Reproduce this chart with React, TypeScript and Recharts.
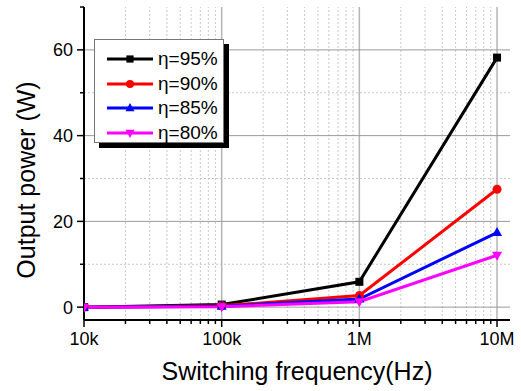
import { LineChart, Line, XAxis, YAxis, ReferenceLine, Legend, Label } from 'recharts';

const freqs = [1e4, 1e5, 1e6, 1e7];
const eta95 = [0, 0.6, 5.9, 58.2];
const eta90 = [0, 0.3, 2.7, 27.5];
const eta85 = [0, 0.2, 1.9, 17.4];
const eta80 = [0, 0.1, 1.25, 12.1];

const xMajor = [1e4, 1e5, 1e6, 1e7];
const xLabels: Record<number, string> = { 10000: '10k', 100000: '100k', 1000000: '1M', 10000000: '10M' };
const yMajor = [0, 20, 40, 60];
const yMinor = [10, 30, 50, 70];

// 2..9 inside each decade for the log grid
const xMinor: number[] = [];
[1e4, 1e5, 1e6].forEach((d) => {
  for (let k = 2; k <= 9; k++) xMinor.push(k * d);
});

const series = [
  { key: 'e95', name: 'η=95%', color: '#000000', shape: 'square', values: eta95 },
  { key: 'e90', name: 'η=90%', color: '#ff0000', shape: 'circle', values: eta90 },
  { key: 'e85', name: 'η=85%', color: '#0000ff', shape: 'up', values: eta85 },
  { key: 'e80', name: 'η=80%', color: '#ff00ff', shape: 'down', values: eta80 },
];

const data = freqs.map((f, i) => {
  const row: Record<string, number> = { f };
  series.forEach((s) => (row[s.key] = s.values[i]));
  return row;
});

const FONT = '"Liberation Sans", Arial, sans-serif';

function Marker({ cx, cy, shape, color, s = 1 }: any) {
  if (cx == null || cy == null) return null;
  if (shape === 'square') return <rect x={cx - 4 * s} y={cy - 4 * s} width={8 * s} height={8 * s} fill={color} />;
  if (shape === 'circle') return <circle cx={cx} cy={cy} r={4.5 * s} fill={color} />;
  if (shape === 'up')
    return <polygon points={`${cx},${cy - 5.5 * s} ${cx - 5 * s},${cy + 3.5 * s} ${cx + 5 * s},${cy + 3.5 * s}`} fill={color} />;
  return <polygon points={`${cx},${cy + 5.5 * s} ${cx - 5 * s},${cy - 3.5 * s} ${cx + 5 * s},${cy - 3.5 * s}`} fill={color} />;
}

function XTick({ x, y, payload }: any) {
  const major = xLabels[payload.value] !== undefined;
  return (
    <g>
      <line x1={x} y1={y} x2={x} y2={y + (major ? 7 : 4)} stroke="#000" strokeWidth={1.5} />
      {major && (
        <text x={x} y={y + 25} textAnchor="middle" fontSize={18} fontFamily={FONT} fill="#000">
          {xLabels[payload.value]}
        </text>
      )}
    </g>
  );
}

function YTick({ x, y, payload }: any) {
  const major = yMajor.includes(payload.value);
  return (
    <g>
      <line x1={x} y1={y} x2={x - (major ? 7 : 4)} y2={y} stroke="#000" strokeWidth={1.5} />
      {major && (
        <text x={x - 11} y={y + 6.5} textAnchor="end" fontSize={18} fontFamily={FONT} fill="#000">
          {payload.value}
        </text>
      )}
    </g>
  );
}

function LegendBox() {
  return (
    <div
      style={{
        width: 130,
        height: 104,
        border: '1px solid #777',
        background: '#fff',
        boxShadow: '5px 5px 0 #000',
        paddingTop: 7,
        boxSizing: 'border-box',
      }}
    >
      {series.map((s) => (
        <div key={s.key} style={{ display: 'flex', alignItems: 'center', height: 24.5 }}>
          <svg width={62} height={20} style={{ display: 'block' }}>
            <line x1={12} y1={10} x2={58} y2={10} stroke={s.color} strokeWidth={3} />
            <Marker cx={35} cy={10} shape={s.shape} color={s.color} s={0.9} />
          </svg>
          <span style={{ fontFamily: FONT, fontSize: 19, color: '#000', marginLeft: 1 }}>{s.name}</span>
        </div>
      ))}
    </div>
  );
}

export default function App() {
  return (
    <div style={{ position: 'absolute', left: 0, top: 0, background: '#fff' }}>
      <LineChart width={521} height={391} data={data} margin={{ top: 7, right: 11, left: 0, bottom: 0 }}>
        <XAxis
          dataKey="f"
          type="number"
          scale="log"
          domain={[1e4, 1.242e7]}
          allowDataOverflow
          ticks={[...xMajor, ...xMinor]}
          interval={0}
          height={71}
          tickSize={0}
          tickMargin={0}
          tick={<XTick />}
          axisLine={{ stroke: '#000', strokeWidth: 2 }}
        >
          <Label
            content={({ viewBox }: any) => (
              <text
                x={viewBox.x + viewBox.width / 2}
                y={viewBox.y + 60}
                textAnchor="middle"
                fontSize={25}
                fontFamily={FONT}
                fill="#000"
              >
                Switching frequency(Hz)
              </text>
            )}
          />
        </XAxis>
        <YAxis
          type="number"
          domain={[-3, 70]}
          allowDataOverflow
          ticks={[...yMajor, ...yMinor]}
          interval={0}
          width={84}
          tickSize={0}
          tickMargin={0}
          tick={<YTick />}
          axisLine={{ stroke: '#000', strokeWidth: 2 }}
        >
          <Label
            content={() => (
              <text
                x={35}
                y={180}
                transform="rotate(-90 35 180)"
                textAnchor="middle"
                fontSize={25}
                fontFamily={FONT}
                fill="#000"
              >
                Output power (W)
              </text>
            )}
          />
        </YAxis>

        {xMinor.map((v) => (
          <ReferenceLine key={`xm${v}`} x={v} stroke="#c8c8c8" strokeDasharray="2 2" strokeWidth={1} />
        ))}
        {[10, 30, 50].map((v) => (
          <ReferenceLine key={`ym${v}`} y={v} stroke="#c8c8c8" strokeDasharray="2 2" strokeWidth={1} />
        ))}
        {xMajor.slice(1).map((v) => (
          <ReferenceLine key={`xM${v}`} x={v} stroke="#b4b4b4" strokeWidth={1.5} />
        ))}
        {yMajor.map((v) => (
          <ReferenceLine key={`yM${v}`} y={v} stroke="#9a9a9a" strokeWidth={1} />
        ))}

        {series.map((s) => (
          <Line
            key={s.key}
            dataKey={s.key}
            name={s.name}
            type="linear"
            stroke={s.color}
            strokeWidth={3}
            dot={(p: any) => <Marker key={`${s.key}-${p.index}`} cx={p.cx} cy={p.cy} shape={s.shape} color={s.color} />}
            activeDot={false}
            isAnimationActive={false}
          />
        ))}

        <Legend
          layout="vertical"
          align="center"
          verticalAlign="middle"
          wrapperStyle={{ left: 94, top: 39, width: 'auto' }}
          content={() => <LegendBox />}
        />
      </LineChart>
    </div>
  );
}
